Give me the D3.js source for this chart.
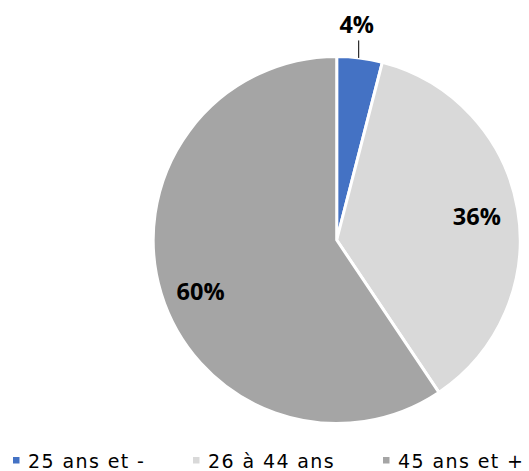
<!DOCTYPE html>
<html>
<head>
<meta charset="utf-8">
<script src="https://cdn.jsdelivr.net/npm/d3@7"></script>
<style>
  html, body { margin: 0; padding: 0; background: #fff; }
</style>
</head>
<body>
<svg id="chart" width="529" height="471"></svg>
<script>
const categories = ["25 ans et -", "26 à 44 ans", "45 ans et +"];
const values = [4.0, 36.6, 59.4];
const labels = ["4%", "36%", "60%"];
const colors = ["#4472C4", "#D9D9D9", "#A5A5A5"];

const svg = d3.select("#chart");
const cx = 336.7, cy = 240, r = 183.5;

const pie = d3.pie().sort(null).value(d => d)(values);
const arc = d3.arc().innerRadius(0).outerRadius(r);

const g = svg.append("g").attr("transform", `translate(${cx},${cy})`);
g.selectAll("path").data(pie).join("path")
  .attr("d", arc)
  .attr("fill", (d, i) => colors[i])
  .attr("stroke", "#fff")
  .attr("stroke-width", 3)
  .attr("stroke-linejoin", "round");

const labelFont = "'Open Sans', 'Noto Sans', sans-serif";
const labelArc = d3.arc().innerRadius(r * 0.775).outerRadius(r * 0.775);
const labelDy = [0, 0, 10];
pie.forEach((d, i) => {
  let x, y;
  if (i === 0) {
    const mid = (d.startAngle + d.endAngle) / 2;
    const ax = Math.sin(mid) * r, ay = -Math.cos(mid) * r;
    g.append("line")
      .attr("x1", ax - 1).attr("y1", ay)
      .attr("x2", ax - 1).attr("y2", ay - 17.5)
      .attr("stroke", "#000").attr("stroke-width", 1);
    x = ax - 3; y = ay - 34;
  } else {
    [x, y] = labelArc.centroid(d);
  }
  g.append("text")
    .attr("x", x).attr("y", y + labelDy[i])
    .attr("text-anchor", "middle")
    .attr("dominant-baseline", "central")
    .attr("font-family", labelFont)
    .attr("font-weight", "bold")
    .attr("font-size", 23.5)
    .attr("fill", "#000")
    .text(labels[i]);
});

// legend
const legendX = [13, 193, 383];
const legend = svg.append("g");
categories.forEach((c, i) => {
  legend.append("rect")
    .attr("x", legendX[i]).attr("y", 457)
    .attr("width", 6.5).attr("height", 6.5)
    .attr("fill", colors[i]);
  legend.append("text")
    .attr("x", legendX[i] + 15).attr("y", 467.5)
    .attr("font-family", "'DejaVu Sans', sans-serif")
    .attr("font-size", 19)
    .attr("letter-spacing", 1.4)
    .attr("fill", "#000")
    .text(c);
});
</script>
</body>
</html>
